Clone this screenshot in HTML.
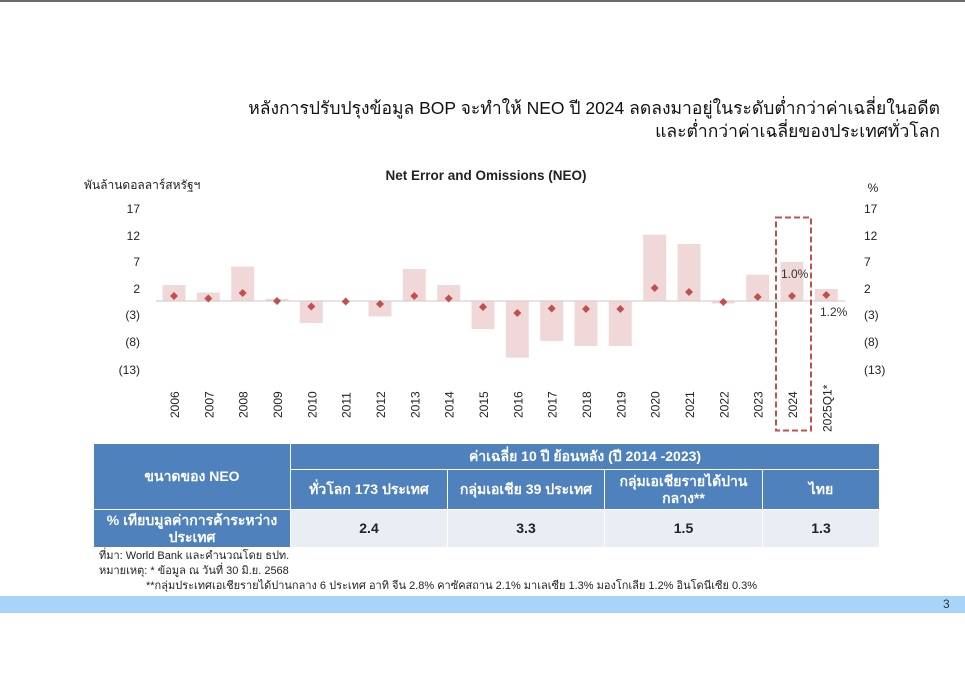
<!DOCTYPE html>
<html><head><meta charset="utf-8"><style>
body{margin:0;width:965px;height:681px;background:#fff;position:relative;overflow:hidden;font-family:"Liberation Sans","Noto Sans CJK SC",sans-serif;}
.a{position:absolute;white-space:nowrap;}
table{position:absolute;left:93px;top:443px;border-collapse:collapse;font-family:"Liberation Sans","Noto Sans CJK SC",sans-serif;font-weight:bold;}
td{border:1px solid #fff;text-align:center;padding:0;font-size:14px;line-height:17px;}
.h{background:#4f81bd;color:#fff;}
.d{background:#e9edf4;color:#222;}
</style></head><body>
<div class="a" style="left:0;top:0;width:965px;height:2px;background:#6b6b6b"></div>
<div class="a" style="right:25px;top:97px;text-align:right;font-size:17.5px;line-height:23px;color:#111">หลังการปรับปรุงข้อมูล BOP จะทำให้ NEO ปี 2024 ลดลงมาอยู่ในระดับต่ำกว่าค่าเฉลี่ยในอดีต<br>และต่ำกว่าค่าเฉลี่ยของประเทศทั่วโลก</div>
<svg class="a" style="left:0;top:0" width="965" height="440" font-family="Liberation Sans, Noto Sans CJK SC, sans-serif">
<text x="486" y="180" font-size="13.5" text-anchor="middle" fill="#222" font-weight="bold">Net Error and Omissions (NEO)</text>
<text x="84" y="189" font-size="12" fill="#222">พันล้านดอลลาร์สหรัฐฯ</text>
<text x="873" y="192" font-size="12" text-anchor="middle" fill="#222">%</text>
<g font-size="12" fill="#222" text-anchor="end">
<text x="140" y="213">17</text><text x="140" y="240">12</text><text x="140" y="266">7</text><text x="140" y="293">2</text><text x="140" y="319">(3)</text><text x="140" y="346">(8)</text><text x="140" y="374">(13)</text>
</g>
<g font-size="12" fill="#222" text-anchor="start">
<text x="864" y="213">17</text><text x="864" y="240">12</text><text x="864" y="266">7</text><text x="864" y="293">2</text><text x="864" y="319">(3)</text><text x="864" y="346">(8)</text><text x="864" y="374">(13)</text>
</g>
<g fill="#f0d8d8">
<rect x="162.5" y="285" width="23" height="16"/>
<rect x="196.8" y="292.5" width="23" height="8.5"/>
<rect x="231.2" y="266.5" width="23" height="34.5"/>
<rect x="265.5" y="299" width="23" height="2"/>
<rect x="299.8" y="301" width="23" height="22"/>
<rect x="368.5" y="301" width="23" height="15.5"/>
<rect x="402.8" y="269" width="23" height="32"/>
<rect x="437.2" y="285" width="23" height="16"/>
<rect x="471.5" y="301" width="23" height="28"/>
<rect x="505.8" y="301" width="23" height="56.7"/>
<rect x="540.2" y="301" width="23" height="40"/>
<rect x="574.5" y="301" width="23" height="45"/>
<rect x="608.8" y="301" width="23" height="45"/>
<rect x="643.2" y="234.7" width="23" height="66.3"/>
<rect x="677.5" y="244" width="23" height="57"/>
<rect x="711.8" y="301" width="23" height="2.5"/>
<rect x="746.2" y="274.7" width="23" height="26.3"/>
<rect x="780.5" y="262" width="23" height="39"/>
<rect x="814.8" y="289" width="23" height="12"/>
</g>
<line x1="156" y1="301" x2="845" y2="301" stroke="#d9d0d0" stroke-width="1.2"/>
<g fill="#c0504d">
<path d="M174 292l4 4-4 4-4-4z"/><path d="M208.3 294.5l4 4-4 4-4-4z"/><path d="M242.7 289l4 4-4 4-4-4z"/><path d="M277 297l4 4-4 4-4-4z"/><path d="M311.3 302.5l4 4-4 4-4-4z"/><path d="M345.7 297.5l4 4-4 4-4-4z"/><path d="M380 300l4 4-4 4-4-4z"/><path d="M414.3 292l4 4-4 4-4-4z"/><path d="M448.7 294.5l4 4-4 4-4-4z"/><path d="M483 303l4 4-4 4-4-4z"/><path d="M517.3 309l4 4-4 4-4-4z"/><path d="M551.7 304.5l4 4-4 4-4-4z"/><path d="M586 305l4 4-4 4-4-4z"/><path d="M620.3 305l4 4-4 4-4-4z"/><path d="M654.7 284l4 4-4 4-4-4z"/><path d="M689 288l4 4-4 4-4-4z"/><path d="M723.3 298l4 4-4 4-4-4z"/><path d="M757.7 293l4 4-4 4-4-4z"/><path d="M792 292l4 4-4 4-4-4z"/><path d="M826.3 291l4 4-4 4-4-4z"/>
</g>
<text x="781" y="278" font-size="12" fill="#333">1.0%</text>
<text x="820" y="316" font-size="12" fill="#333">1.2%</text>
<rect x="776" y="217.5" width="35" height="213" fill="none" stroke="#c0504d" stroke-width="2" stroke-dasharray="6,3"/>
<g font-size="12" fill="#222">
<text transform="translate(179,418) rotate(-90)">2006</text>
<text transform="translate(213.3,418) rotate(-90)">2007</text>
<text transform="translate(247.7,418) rotate(-90)">2008</text>
<text transform="translate(282,418) rotate(-90)">2009</text>
<text transform="translate(316.3,418) rotate(-90)">2010</text>
<text transform="translate(350.7,418) rotate(-90)">2011</text>
<text transform="translate(385,418) rotate(-90)">2012</text>
<text transform="translate(419.3,418) rotate(-90)">2013</text>
<text transform="translate(453.7,418) rotate(-90)">2014</text>
<text transform="translate(488,418) rotate(-90)">2015</text>
<text transform="translate(522.3,418) rotate(-90)">2016</text>
<text transform="translate(556.7,418) rotate(-90)">2017</text>
<text transform="translate(591,418) rotate(-90)">2018</text>
<text transform="translate(625.3,418) rotate(-90)">2019</text>
<text transform="translate(659.7,418) rotate(-90)">2020</text>
<text transform="translate(694,418) rotate(-90)">2021</text>
<text transform="translate(728.3,418) rotate(-90)">2022</text>
<text transform="translate(762.7,418) rotate(-90)">2023</text>
<text transform="translate(797,418) rotate(-90)">2024</text>
<text transform="translate(831.3,432) rotate(-90)">2025Q1*</text>
</g>
</svg>
<table>
<tr style="height:26px"><td class="h" rowspan="2" style="width:196px">ขนาดของ NEO</td><td class="h" colspan="4">ค่าเฉลี่ย 10 ปี ย้อนหลัง (ปี 2014 -2023)</td></tr>
<tr style="height:40px"><td class="h" style="width:156px">ทั่วโลก 173 ประเทศ</td><td class="h" style="width:156px">กลุ่มเอเชีย 39 ประเทศ</td><td class="h" style="width:157px">กลุ่มเอเชียรายได้ปาน<br>กลาง**</td><td class="h" style="width:116px">ไทย</td></tr>
<tr style="height:38px"><td class="h">% เทียบมูลค่าการค้าระหว่าง<br>ประเทศ</td><td class="d">2.4</td><td class="d">3.3</td><td class="d">1.5</td><td class="d">1.3</td></tr>
</table>
<div class="a" style="left:99px;top:549px;font-size:11px;line-height:15px;color:#222">ที่มา: World Bank และคำนวณโดย ธปท.<br>หมายเหตุ: * ข้อมูล ณ วันที่ 30 มิ.ย. 2568<br><span style="padding-left:47px">**กลุ่มประเทศเอเชียรายได้ปานกลาง 6 ประเทศ อาทิ จีน 2.8% คาซัคสถาน 2.1% มาเลเซีย 1.3% มองโกเลีย 1.2% อินโดนีเซีย 0.3%</span></div>
<div class="a" style="left:0;top:596px;width:965px;height:17px;background:#a9d4f9"></div>
<div class="a" style="left:943px;top:597px;font-size:12px;color:#333">3</div>
</body></html>
